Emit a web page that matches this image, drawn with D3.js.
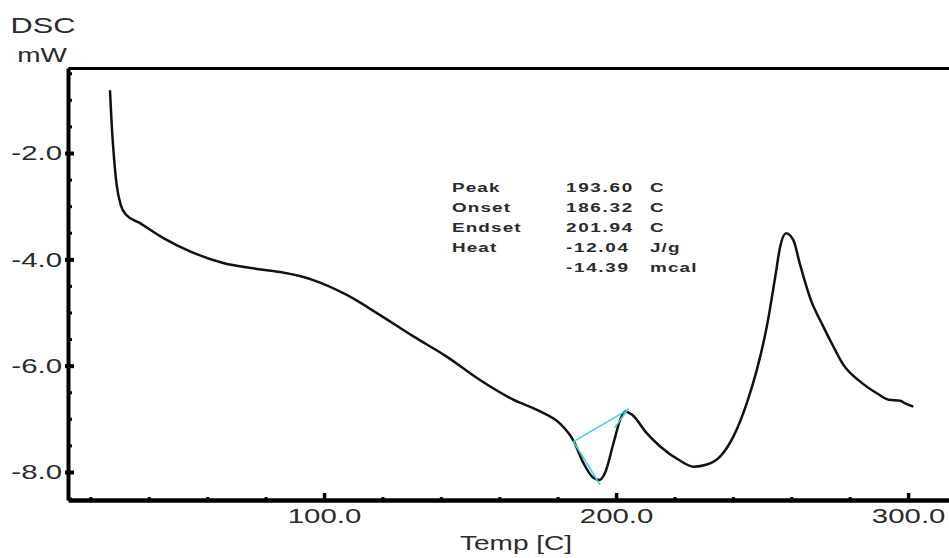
<!DOCTYPE html>
<html>
<head>
<meta charset="utf-8">
<script src="https://cdn.jsdelivr.net/npm/d3@7"></script>
<style>
    html, body { margin: 0; padding: 0; background: #fff; }
    svg { display: block; }
    .lbl { font-family: "Liberation Sans", Arial, sans-serif; fill: #2a2a2a; }
</style>
</head>
<body>
<div id="chart"></div>
<script>
'use strict';

// DSC trace: temperature (C) and heat flow (mW)
const tempC = [
    26.7, 27.3, 28.1, 29.0, 30.4, 32.4, 37.0, 45.0, 54.1, 65.5,
    77.0, 85.0, 96.3, 107.8, 119.2, 130.6, 142.0, 153.4, 164.8, 174.0,
    180.8, 185.4, 188.8, 192.2, 194.3, 196.2, 199.1, 201.4, 203.1, 205.4,
    210.5, 215.1, 221.4, 226.5, 231.1, 235.6, 240.2, 244.8, 248.2, 251.6,
    254.5, 256.2, 258.2, 260.7, 263.0, 266.4, 271.0, 274.4, 277.8, 283.6,
    289.3, 293.3, 297.3, 299.0, 301.8
];
const dscMw = [
    -0.82, -1.47, -2.10, -2.60, -2.98, -3.17, -3.32, -3.60, -3.85, -4.07,
    -4.18, -4.24, -4.39, -4.67, -5.05, -5.45, -5.83, -6.27, -6.64, -6.86,
    -7.09, -7.41, -7.83, -8.11, -8.15, -8.02, -7.46, -7.02, -6.86, -6.92,
    -7.27, -7.52, -7.77, -7.90, -7.86, -7.71, -7.33, -6.70, -6.08, -5.27,
    -4.33, -3.76, -3.51, -3.64, -4.10, -4.72, -5.27, -5.64, -5.98, -6.30,
    -6.52, -6.64, -6.66, -6.71, -6.77
];

// analysis construction lines (cyan)
const baselineT = [185.4, 203.1];
const baselineV = [-7.43, -6.86];
const onsetTanT = [185.4, 194.5];
const onsetTanV = [-7.43, -8.24];
const endTanT = [199.5, 204.2];
const endTanV = [-7.17, -6.81];

// axis ticks
const xMajorTicks = [100, 200, 300];
const xMinorTicks = [20, 40, 60, 80, 120, 140, 160, 180, 220, 240, 260, 280];
const yMajorTicks = [-2, -4, -6, -8];
const yMinorTicks = [-0.5, -1, -1.5, -2.5, -3, -3.5, -4.5, -5, -5.5, -6.5, -7, -7.5, -8.5];

// result box
const resultLabels = ['Peak', 'Onset', 'Endset', 'Heat', ''];
const resultValues = ['193.60', '186.32', '201.94', '-12.04', '-14.39'];
const resultUnits = ['C', 'C', 'C', 'J/g', 'mcal'];

const W = 949, H = 558;
const SX = 1.4; // text in the picture is stretched sideways
const frame = { left: 68, top: 68, right: 949, bottom: 500 };

//hyphen instead of unicode minus, like the instrument print
const fmt1 = d => d.toFixed(1);

function drawChart() {
    const svg = d3.select('#chart')
        .append('svg')
        .attr('width', W)
        .attr('height', H);

    const x = d3.scaleLinear().domain([12.33, 314.0]).range([frame.left, frame.right]);
    const y = d3.scaleLinear().domain([-0.401, -8.527]).range([frame.top, frame.bottom]);

    //minor ticks first, no labels
    svg.append('g')
        .attr('transform', `translate(0,${frame.bottom})`)
        .call(d3.axisBottom(x).tickValues(xMinorTicks).tickSize(-3).tickFormat(''))
        .call(g => g.select('.domain').remove())
        .call(g => g.selectAll('line').attr('stroke', '#000').attr('stroke-width', 3));

    svg.append('g')
        .attr('transform', `translate(${frame.left},0)`)
        .call(d3.axisLeft(y).tickValues(yMinorTicks).tickSize(-4).tickFormat(''))
        .call(g => g.select('.domain').remove())
        .call(g => g.selectAll('line').attr('stroke', '#000').attr('stroke-width', 3));

    //major ticks with labels
    svg.append('g')
        .attr('transform', `translate(0,${frame.bottom})`)
        .call(d3.axisBottom(x).tickValues(xMajorTicks).tickSizeInner(-7).tickSizeOuter(0)
            .tickPadding(8).tickFormat(fmt1))
        .call(g => g.select('.domain').attr('stroke', '#000').attr('stroke-width', 4.5))
        .call(g => g.selectAll('line').attr('stroke', '#000').attr('stroke-width', 3.5))
        .call(g => g.selectAll('text')
            .attr('class', 'lbl')
            .attr('font-size', 21)
            .attr('transform', `scale(${SX},1)`));

    svg.append('g')
        .attr('transform', `translate(${frame.left},0)`)
        .call(d3.axisLeft(y).tickValues(yMajorTicks).tickSizeInner(-6).tickSizeOuter(0)
            .tickPadding(0).tickFormat(fmt1))
        .call(g => g.select('.domain').attr('stroke', '#000').attr('stroke-width', 4))
        .call(g => g.selectAll('.tick line').attr('x1', -3).attr('stroke', '#000').attr('stroke-width', 4))
        .call(g => g.selectAll('text')
            .attr('class', 'lbl')
            .attr('font-size', 21)
            .attr('x', 0)
            .attr('transform', `translate(-6,0) scale(${SX},1)`));

    //top border
    svg.append('g')
        .attr('transform', `translate(0,${frame.top})`)
        .call(d3.axisTop(x).tickValues([]).tickSizeOuter(0))
        .call(g => g.select('.domain').attr('stroke', '#000').attr('stroke-width', 3));

    //the trace
    const pts = tempC.map((t, i) => [t, dscMw[i]]);
    const line = d3.line()
        .x(d => x(d[0]))
        .y(d => y(d[1]))
        .curve(d3.curveMonotoneX);

    svg.append('path')
        .datum(pts)
        .attr('fill', 'none')
        .attr('stroke', '#111')
        .attr('stroke-width', 2.5)
        .attr('stroke-linejoin', 'round')
        .attr('d', line);

    //cyan construction lines
    const straight = d3.line().x(d => x(d[0])).y(d => y(d[1]));
    [[baselineT, baselineV], [onsetTanT, onsetTanV], [endTanT, endTanV]].forEach(([ts, vs]) => {
        svg.append('path')
            .datum(ts.map((t, i) => [t, vs[i]]))
            .attr('fill', 'none')
            .attr('stroke', '#3ad6d6')
            .attr('stroke-width', 1.6)
            .attr('d', straight);
    });

    //axis titles
    addText(svg, 43, 33, 'DSC', 22, 'middle');
    addText(svg, 42, 62, 'mW', 20, 'middle');
    addText(svg, 460, 550, 'Temp [C]', 20, 'start');

    //result box
    const rowY = [192, 212, 232, 252, 272];
    resultLabels.forEach((s, i) => {
        addText(svg, 452, rowY[i], s, 13.5, 'start', true, 0.8);
        addText(svg, 566, rowY[i], resultValues[i], 13.5, 'start', true, 1.2);
        addText(svg, 650, rowY[i], resultUnits[i], 13.5, 'start', true, 0.8);
    });
}

//text helper, stretched like the picture
function addText(svg, px, py, str, size, anchor, bold, spacing) {
    svg.append('text')
        .attr('class', 'lbl')
        .attr('transform', `translate(${px},${py}) scale(${SX},1)`)
        .attr('font-size', size)
        .attr('font-weight', bold ? 'bold' : 'normal')
        .attr('letter-spacing', spacing || 0)
        .attr('text-anchor', anchor)
        .text(str);
}

drawChart();
</script>
</body>
</html>
